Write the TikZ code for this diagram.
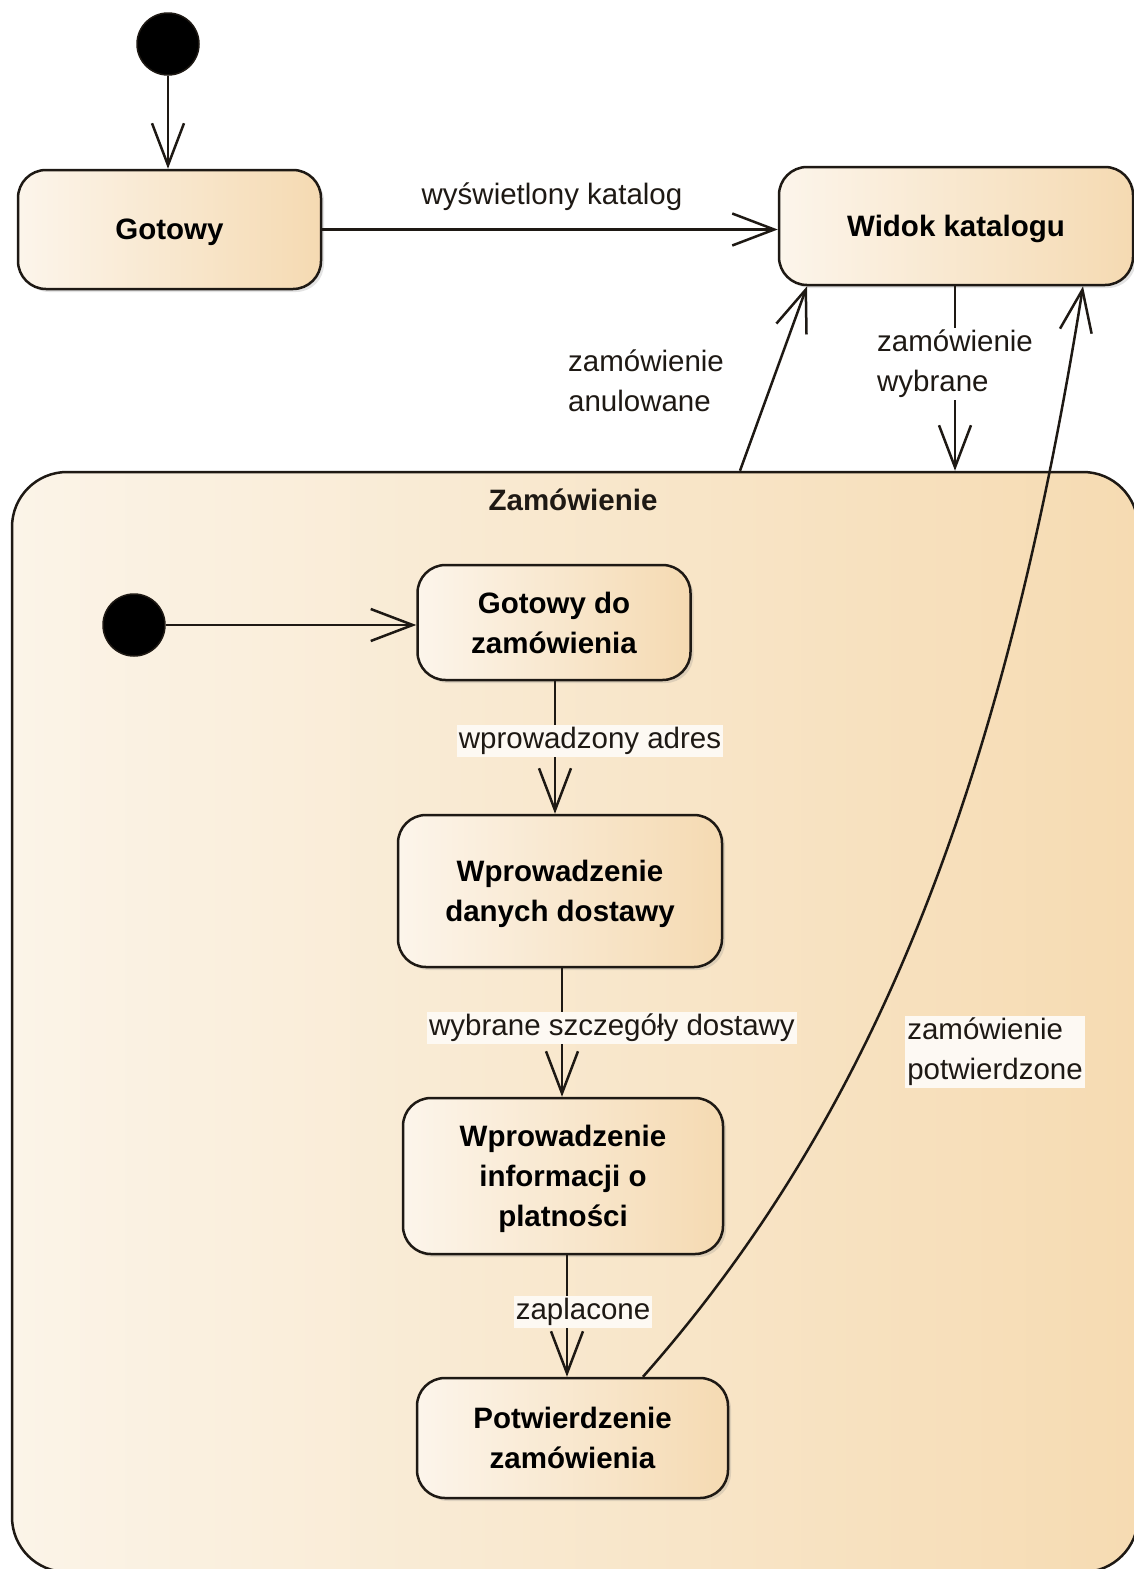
\documentclass[tikz,border=0pt]{standalone}
\usepackage{fontspec}
\setmainfont{Liberation Sans}
\usetikzlibrary{arrows.meta,shadows}
\definecolor{boxL}{RGB}{252,245,235}
\definecolor{boxR}{RGB}{245,218,178}
\definecolor{bigL}{RGB}{251,244,232}
\definecolor{bigR}{RGB}{246,219,178}
\definecolor{labbg}{RGB}{253,249,243}
\definecolor{ink}{RGB}{30,25,20}
\begin{document}
\begin{tikzpicture}[x=1pt,y=-1pt,
  stbox/.style={draw=ink, line width=2.5pt, rounded corners=28pt,
    left color=boxL, right color=boxR, text depth=0pt,
    font=\fontsize{29.5}{40}\selectfont\bfseries, align=center, inner sep=0pt,
    drop shadow={shadow xshift=3pt,shadow yshift=-3pt,opacity=0.22}},
  bigbox/.style={draw=ink, line width=2.5pt, rounded corners=55pt,
    left color=bigL, right color=bigR, inner sep=0pt},
  initst/.style={circle, fill=black, draw=ink, line width=1.5pt, minimum size=62pt, inner sep=0pt},
  tr/.style={line width=2.5pt, draw=ink, -{Straight Barb[length=42pt,width=32pt]}},
  lbl/.style={font=\fontsize{29.5}{40}\selectfont, align=left, inner sep=2pt, text=ink},
  lblbg/.style={lbl, fill=labbg},
]
\useasboundingbox (0,0) rectangle (1134,1569);
\fill[white] (0,0) rectangle (1134,1569);

% outer states
\node[initst] (i1) at (168,44) {};
\node[stbox, minimum width=303pt, minimum height=119pt] (g) at (169.5,229.5) {Gotowy};
\node[stbox, minimum width=354pt, minimum height=118pt] (wk) at (956,226) {Widok katalogu};

% composite state
\node[bigbox, minimum width=1126pt, minimum height=1100pt] (zam) at (575,1022) {};
\node[lbl, font=\fontsize{29.5}{40}\selectfont\bfseries] (zt) at (573,500) {Zamówienie};

\node[initst] (i2) at (134,625) {};
\node[stbox, minimum width=273pt, minimum height=115pt] (gd) at (554,622.5) {Gotowy do\\zamówienia};
\node[stbox, minimum width=324pt, minimum height=152pt] (wd) at (560,891) {Wprowadzenie\\danych dostawy};
\node[stbox, minimum width=320pt, minimum height=156pt] (wi) at (563,1176) {Wprowadzenie\\informacji o\\platności};
\node[stbox, minimum width=311pt, minimum height=120pt] (pz) at (572.5,1438) {Potwierdzenie\\zamówienia};

% transitions
\draw[tr] (i1) -- (168,0 |- g.north);
\draw[tr] (g.east) -- (g.east -| wk.west);
\node[lbl] (l1) at (552,197) {wyświetlony katalog};

\draw[tr] (740,0 |- zam.north) -- (807,0 |- wk.south);
\node[lbl] (l2) at (646,381) {zamówienie\\anulowane};

\draw[tr] (955,0 |- wk.south) -- (955,0 |- zam.north);
\node[lbl, fill=white] (l3) at (955,364) {zamówienie\\wybrane};

\draw[tr] (643,0 |- pz.north) .. controls (874,1115) and (1003,787) .. (1083,0 |- wk.south);
\node[lblbg] (l4) at (995,1052) {zamówienie\\potwierdzone};

\draw[tr] (i2) -- (i2 -| gd.west);

\draw[tr] (555,0 |- gd.south) -- (555,0 |- wd.north);
\node[lblbg] (l5) at (590,741) {wprowadzony adres};

\draw[tr] (562,0 |- wd.south) -- (562,0 |- wi.north);
\node[lblbg] (l6) at (612,1028) {wybrane szczegóły dostawy};

\draw[tr] (567,0 |- wi.south) -- (567,0 |- pz.north);
\node[lblbg] (l7) at (583,1312) {zaplacone};
\end{tikzpicture}
\end{document}
